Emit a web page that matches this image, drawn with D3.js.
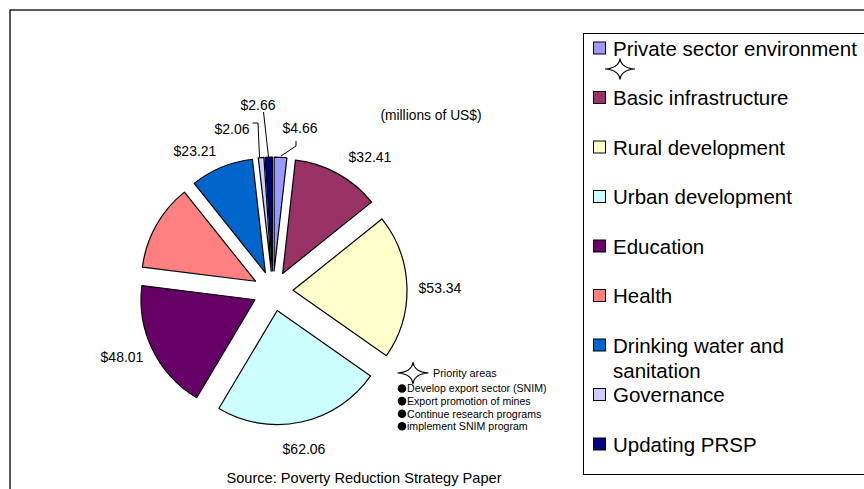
<!DOCTYPE html>
<html>
<head>
<meta charset="utf-8">
<script src="https://cdn.jsdelivr.net/npm/d3@7"></script>
<style>
  html, body { margin: 0; padding: 0; background: #fff; }
  svg { display: block; font-family: "Liberation Sans", Arial, sans-serif; }
</style>
</head>
<body>
<div id="chart"></div>
<script>
// categories in pie order (clockwise from 12 o'clock), same as the legend
const categories = [
  "Private sector environment",
  "Basic infrastructure",
  "Rural development",
  "Urban development",
  "Education",
  "Health",
  "Drinking water and sanitation",
  "Governance",
  "Updating PRSP"
];
const values = [4.66, 32.41, 53.34, 62.06, 48.01, 32.0, 23.21, 2.06, 2.66];
const valueLabels = ["$4.66", "$32.41", "$53.34", "$62.06", "$48.01", "", "$23.21", "$2.06", "$2.66"];
const colors = ["#9999FF", "#993366", "#FFFFCC", "#CCFFFF", "#660066", "#FF8080", "#0066CC", "#CCCCFF", "#000080"];
const priorityAreas = [
  "Develop export sector (SNIM)",
  "Export promotion of mines",
  "Continue research programs",
  "implement SNIM program"
];

// label placement (Excel put these by hand)
const labelLayout = [
  { x: 300, y: 128, leader: [[296, 141], [296, 146], [281, 156]] },
  { x: 370, y: 157 },
  { x: 440, y: 288 },
  { x: 304, y: 449 },
  { x: 122, y: 357 },
  null,
  { x: 195, y: 151 },
  { x: 232, y: 129, leader: [[252.5, 123], [258, 123], [259.5, 157]] },
  { x: 258, y: 105, leader: [[263.5, 112], [268.5, 157]] }
];

const W = 864, H = 489;
const cx = 273, cy = 291, R = 114, explode = 20;

const svg = d3.select("#chart").append("svg").attr("width", W).attr("height", H);

// chart frame (runs off the right/bottom edge)
svg.append("rect")
  .attr("x", 10).attr("y", 10).attr("width", 1000).attr("height", 1000)
  .attr("fill", "#fff").attr("stroke", "#000").attr("stroke-width", 1.3);

function starPath(x, y, w, h) {
  const k = 0.08;
  return `M${x},${y - h}` +
    `Q${x + w * k},${y - h * k} ${x + w},${y}` +
    `Q${x + w * k},${y + h * k} ${x},${y + h}` +
    `Q${x - w * k},${y + h * k} ${x - w},${y}` +
    `Q${x - w * k},${y - h * k} ${x},${y - h}Z`;
}

/* ========== PIE ========== */

const pie = d3.pie().sort(null).value((d) => d).startAngle(0).endAngle(2 * Math.PI);
const arc = d3.arc().innerRadius(0).outerRadius(R);
const arcs = pie(values);

const gPie = svg.append("g").attr("transform", `translate(${cx},${cy})`);
gPie.selectAll("path")
  .data(arcs)
  .enter()
  .append("path")
  .attr("d", arc)
  .attr("transform", (d) => {
    const a = (d.startAngle + d.endAngle) / 2;
    return `translate(${explode * Math.sin(a)},${-explode * Math.cos(a)})`;
  })
  .attr("fill", (d, i) => colors[i])
  .attr("stroke", "#000")
  .attr("stroke-width", 1.2)
  .attr("stroke-linejoin", "round");

// leader lines
const line = d3.line();
labelLayout.forEach((l) => {
  if (l && l.leader) {
    svg.append("path").attr("d", line(l.leader))
      .attr("fill", "none").attr("stroke", "#000").attr("stroke-width", 1);
  }
});

// value labels
svg.append("g").selectAll("text")
  .data(valueLabels.map((t, i) => ({ t, l: labelLayout[i] })).filter((d) => d.t && d.l))
  .enter()
  .append("text")
  .attr("x", (d) => d.l.x)
  .attr("y", (d) => d.l.y)
  .attr("dy", "0.36em")
  .attr("text-anchor", "middle")
  .attr("font-size", 14)
  .attr("fill", "#000")
  .text((d) => d.t);

svg.append("text")
  .attr("x", 431).attr("y", 115).attr("dy", "0.36em")
  .attr("text-anchor", "middle").attr("font-size", 13.8)
  .text("(millions of US$)");

svg.append("text")
  .attr("x", 364).attr("y", 478).attr("dy", "0.36em")
  .attr("text-anchor", "middle").attr("font-size", 14.6)
  .text("Source: Poverty Reduction Strategy Paper");

/* ========== PRIORITY AREAS NOTE ========== */

svg.append("path").attr("d", starPath(413, 373, 15.5, 11))
  .attr("fill", "#fff").attr("stroke", "#000").attr("stroke-width", 1.2);
svg.append("text").attr("x", 433).attr("y", 373).attr("dy", "0.36em")
  .attr("font-size", 10.8).text("Priority areas");

const gNote = svg.append("g");
gNote.selectAll("circle")
  .data(priorityAreas)
  .enter()
  .append("circle")
  .attr("cx", 402).attr("cy", (d, i) => 388.5 + i * 12.6).attr("r", 4.3)
  .attr("fill", "#000");
gNote.selectAll("text")
  .data(priorityAreas)
  .enter()
  .append("text")
  .attr("x", 407).attr("y", (d, i) => 388.5 + i * 12.6).attr("dy", "0.36em")
  .attr("font-size", 10.6).text((d) => d);

/* ========== LEGEND ========== */

svg.append("rect")
  .attr("x", 583.5).attr("y", 33.5).attr("width", 400).attr("height", 441)
  .attr("fill", "#fff").attr("stroke", "#000").attr("stroke-width", 1);

const legendY = d3.scaleLinear().domain([0, categories.length - 1]).range([48.5, 444.5]);
const gLeg = svg.append("g");
const items = gLeg.selectAll("g")
  .data(categories)
  .enter()
  .append("g")
  .attr("transform", (d, i) => `translate(0,${legendY(i)})`);

items.append("rect")
  .attr("x", 593.5).attr("y", -6.5).attr("width", 12).attr("height", 12)
  .attr("fill", (d, i) => colors[i]).attr("stroke", "#000").attr("stroke-width", 1);

items.append("text")
  .attr("x", 613).attr("font-size", 20.5).attr("fill", "#000")
  .each(function (d) {
    const t = d3.select(this);
    const parts = d === "Drinking water and sanitation" ? ["Drinking water and", "sanitation"] : [d];
    parts.forEach((p, j) => {
      t.append("tspan").attr("x", 613).attr("y", j * 25).attr("dy", "0.36em").text(p);
    });
  });

svg.append("path").attr("d", starPath(620, 69, 15, 10.5))
  .attr("fill", "#fff").attr("stroke", "#000").attr("stroke-width", 1.2);
</script>
</body>
</html>
